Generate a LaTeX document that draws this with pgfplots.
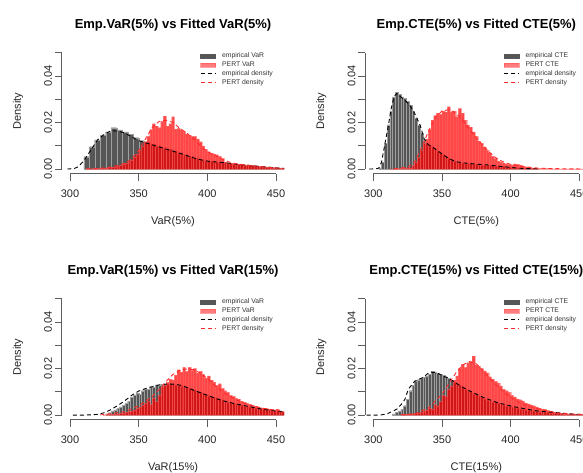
\documentclass[border=0pt]{standalone}
\usepackage{pgfplots}
\pgfplotsset{compat=1.18}
\usepackage{fontspec}
\setmainfont{Liberation Sans}
\definecolor{empgray}{HTML}{565656}
\definecolor{axgray}{HTML}{5E5E5E}
\definecolor{legred}{HTML}{FF4A4A}
\definecolor{dred}{HTML}{FF2A2A}

\pgfplotsset{
  rpanel/.style={
    scale only axis, width=222.4pt, height=125.6pt,
    xmin=294, xmax=456, ymin=-0.002, ymax=0.052,
    scaled y ticks=false, scaled x ticks=false,
    axis x line*=bottom, axis y line*=left,
    x axis line style={-, shorten <=8.24pt, shorten >=8.24pt},
    y axis line style={-, shorten <=4.65pt, shorten >=4.65pt},
    axis line style={axgray, line width=0.7pt},
    every tick/.style={axgray, line width=0.7pt},
    tick align=outside, major tick length=7pt,
    xtick={300,350,400,450}, xticklabels={300,350,400,450},
    ytick={0,0.01,0.02,0.03,0.04,0.05}, yticklabels={0.00,,0.02,,0.04,},
    tick label style={font=\fontsize{11}{13}\selectfont, text=black!85},
    yticklabel style={rotate=90, anchor=south, inner sep=2.5pt},
    xticklabel style={anchor=north, inner sep=0pt, yshift=-9pt},
    label style={font=\fontsize{11}{13}\selectfont, text=black!85},
    xlabel style={at={(axis description cs:0.5,-0.380)}, anchor=center},
    ylabel style={at={(axis description cs:-0.197,0.5)}, anchor=center},
    every axis title shift=0pt,
    title style={at={(axis description cs:0.5,1.18)}, anchor=center, font=\bfseries\fontsize{13}{15}\selectfont},
    legend style={draw=none, fill=none, at={(axis description cs:0.621,0.972)}, anchor=north west,
      font=\fontsize{6.8}{7.5}\selectfont, inner sep=0pt, row sep=0pt,
      nodes={inner sep=1.2pt, text=black!80}},
    legend cell align=left,
  },
  ghist/.style={ybar interval, fill=empgray, draw=gray!75, line width=0.25pt,
    legend image code/.code={\fill[empgray] (0pt,-2pt) rectangle (15pt,2pt); \path (0pt,0pt) (20pt,0pt);}},
  rhist/.style={ybar interval, fill=red, fill opacity=0.72, draw=red!60!white, draw opacity=0.5, line width=0.2pt,
    legend image code/.code={\fill[legred] (0pt,-2pt) rectangle (15pt,2pt); \path (0pt,0pt) (20pt,0pt);}},
  edens/.style={black, dash pattern=on 4pt off 3pt, line width=0.9pt,
    legend image code/.code={\draw[black, dash pattern=on 4pt off 3pt, line width=0.8pt] (0pt,0pt) -- (15pt,0pt); \path (0pt,0pt) (20pt,0pt);}},
  pdens/.style={dred, dash pattern=on 4pt off 3pt, line width=0.9pt,
    legend image code/.code={\draw[dred, dash pattern=on 4pt off 3pt, line width=0.8pt] (0pt,0pt) -- (15pt,0pt); \path (0pt,0pt) (20pt,0pt);}},
}

\begin{document}
\begin{tikzpicture}[x=1pt,y=1pt]
\useasboundingbox (0,0) rectangle (583,472);

% ---------------- Top-left: VaR(5%) ----------------
\begin{axis}[rpanel, at={(61.8pt,298.3pt)}, anchor=south west,
  title={Emp.VaR(5\%) vs Fitted VaR(5\%)}, xlabel={VaR(5\%)}, ylabel={Density}]
\addplot[ghist] coordinates {(310,0.0053) (314,0.0096) (318,0.0125) (322,0.0145) (326,0.0160) (330,0.0178) (334,0.0168) (338,0.0160) (342,0.0150) (346,0.0135) (350,0.0122) (354,0.0115) (358,0.0108) (362,0.0100) (366,0.0092) (370,0.0085) (374,0.0078) (378,0.0070) (382,0.0062) (386,0.0055) (390,0.0047) (394,0.0040) (398,0.0035) (402,0.0032) (406,0.0030) (410,0.0028) (414,0.0025) (418,0.0022) (422,0.0020) (426,0.0017) (430,0.0015) (434,0.0012) (438,0.0010) (442,0.0008) (446,0.0006) (450,0.0005) (454,0.0004) (458,0)};
\addlegendentry{empirical VaR}
\addplot[rhist] coordinates {(312,0.0002) (314,0.0001) (316,0.0002) (318,0.0002) (320,0.0002) (322,0.0003) (324,0.0004) (326,0.0005) (328,0.0007) (330,0.0008) (332,0.0010) (334,0.0013) (336,0.0016) (338,0.0020) (340,0.0026) (342,0.0032) (344,0.0040) (346,0.0052) (348,0.0065) (350,0.0080) (352,0.0100) (354,0.0118) (356,0.0140) (358,0.0170) (360,0.0195) (362,0.0185) (364,0.0178) (366,0.0205) (368,0.0228) (370,0.0185) (372,0.0195) (374,0.0225) (376,0.0172) (378,0.0175) (380,0.0168) (382,0.0162) (384,0.0150) (386,0.0145) (388,0.0140) (390,0.0140) (392,0.0130) (394,0.0118) (396,0.0100) (398,0.0085) (400,0.0075) (402,0.0068) (404,0.0065) (406,0.0062) (408,0.0055) (410,0.0045) (412,0.0030) (414,0.0026) (416,0.0025) (418,0.0023) (420,0.0022) (422,0.0021) (424,0.0020) (426,0.0019) (428,0.0018) (430,0.0017) (432,0.0015) (434,0.0014) (436,0.0012) (438,0.0011) (440,0.0010) (442,0.0009) (444,0.0008) (446,0.0007) (448,0.0006) (450,0.0005) (452,0.0004) (454,0.0003) (456,0)};
\addlegendentry{PERT VaR}
\addplot[edens] coordinates {(298,0) (303,0.0002) (306,0.0010) (310,0.0035) (315,0.0080) (320,0.0125) (325,0.0150) (330,0.0165) (335,0.0163) (340,0.0155) (345,0.0138) (350,0.0122) (355,0.0113) (360,0.0104) (365,0.0095) (370,0.0086) (375,0.0077) (380,0.0068) (385,0.0058) (390,0.0048) (395,0.0040) (400,0.0034) (405,0.0031) (410,0.0029) (415,0.0026) (420,0.0022) (425,0.0019) (430,0.0016) (435,0.0013) (440,0.0010) (445,0.0008) (450,0.0005) (456,0.0003)};
\addlegendentry{empirical density}
\addplot[pdens] coordinates {(312,0.0001) (320,0.0002) (330,0.0008) (340,0.0025) (345,0.0045) (350,0.0080) (355,0.0130) (360,0.0180) (365,0.0205) (370,0.0210) (375,0.0200) (380,0.0175) (385,0.0155) (390,0.0130) (395,0.0100) (400,0.0075) (405,0.0060) (410,0.0045) (415,0.0032) (420,0.0024) (430,0.0016) (440,0.0010) (450,0.0005) (456,0.0003)};
\addlegendentry{PERT density}
\end{axis}

% ---------------- Top-right: CTE(5%) ----------------
\begin{axis}[rpanel, at={(365.1pt,298.3pt)}, anchor=south west,
  title={Emp.CTE(5\%) vs Fitted CTE(5\%)}, xlabel={CTE(5\%)}, ylabel={Density}]
\addplot[ghist] coordinates {(304,0.0005) (306,0.0030) (308,0.0110) (310,0.0190) (312,0.0250) (314,0.0310) (316,0.0330) (318,0.0320) (320,0.0310) (322,0.0305) (324,0.0290) (326,0.0275) (328,0.0250) (330,0.0220) (332,0.0190) (334,0.0155) (336,0.0125) (338,0.0110) (340,0.0102) (342,0.0095) (344,0.0088) (346,0.0078) (348,0.0070) (350,0.0062) (352,0.0055) (354,0.0048) (356,0.0040) (358,0.0035) (360,0.0030) (362,0.0028) (364,0.0026) (366,0.0025) (368,0.0024) (370,0.0024) (372,0.0022) (374,0.0020) (376,0.0019) (378,0.0018) (380,0.0017) (384,0.0015) (388,0.0013) (392,0.0011) (396,0.0008) (400,0.0006) (404,0.0004) (408,0.0003) (412,0.0002) (416,0.0001) (420,0)};
\addlegendentry{empirical CTE}
\addplot[rhist] coordinates {(312,0.0001) (316,0.0002) (320,0.0003) (324,0.0006) (328,0.0015) (330,0.0030) (332,0.0050) (334,0.0080) (336,0.0110) (338,0.0130) (340,0.0170) (342,0.0210) (344,0.0230) (346,0.0240) (348,0.0235) (350,0.0250) (352,0.0245) (354,0.0268) (356,0.0245) (358,0.0250) (360,0.0225) (362,0.0260) (364,0.0240) (366,0.0210) (368,0.0190) (370,0.0180) (372,0.0160) (374,0.0140) (376,0.0120) (378,0.0110) (380,0.0095) (382,0.0080) (384,0.0070) (386,0.0055) (388,0.0045) (390,0.0035) (392,0.0030) (394,0.0025) (396,0.0022) (398,0.0020) (400,0.0018) (402,0.0022) (404,0.0020) (406,0.0018) (408,0.0014) (410,0.0010) (412,0.0008) (414,0.0006) (416,0.0004) (418,0.0003) (420,0.0002) (430,0.0001) (456,0)};
\addlegendentry{PERT CTE}
\addplot[edens] coordinates {(297,0) (302,0.0001) (304,0.0004) (306,0.0030) (308.5,0.0110) (311,0.0190) (313,0.0260) (315,0.0310) (317,0.0325) (320,0.0310) (324,0.0290) (327,0.0270) (330,0.0240) (334,0.0190) (337,0.0130) (340,0.0105) (343,0.0095) (347,0.0078) (350,0.0065) (355,0.0045) (360,0.0032) (365,0.0027) (370,0.0024) (375,0.0021) (385,0.0017) (395,0.0010) (405,0.0004) (412,0.0002) (420,0.0001)};
\addlegendentry{empirical density}
\addplot[pdens] coordinates {(315,0.0001) (325,0.0008) (330,0.0030) (335,0.0090) (340,0.0160) (345,0.0220) (350,0.0250) (355,0.0255) (360,0.0240) (365,0.0210) (370,0.0170) (375,0.0135) (380,0.0100) (385,0.0070) (390,0.0045) (395,0.0030) (400,0.0020) (405,0.0015) (410,0.0010) (420,0.0004) (430,0.0002) (440,0.0001) (456,0.0)};
\addlegendentry{PERT density}
\end{axis}

% ---------------- Bottom-left: VaR(15%) ----------------
\begin{axis}[rpanel, at={(61.8pt,52.3pt)}, anchor=south west,
  title={Emp.VaR(15\%) vs Fitted VaR(15\%)}, xlabel={VaR(15\%)}, ylabel={Density}]
\addplot[ghist] coordinates {(326,0.0005) (328,0.0010) (330,0.0018) (332,0.0022) (334,0.0028) (336,0.0035) (338,0.0042) (340,0.0050) (342,0.0060) (344,0.0075) (346,0.0085) (348,0.0095) (350,0.0088) (352,0.0105) (354,0.0110) (356,0.0112) (358,0.0122) (360,0.0118) (362,0.0130) (364,0.0128) (366,0.0133) (368,0.0131) (370,0.0134) (372,0.0132) (374,0.0131) (376,0.0130) (378,0.0128) (380,0.0126) (382,0.0122) (384,0.0120) (386,0.0116) (388,0.0112) (390,0.0107) (392,0.0102) (394,0.0098) (396,0.0093) (398,0.0088) (400,0.0083) (402,0.0079) (404,0.0075) (406,0.0071) (408,0.0067) (410,0.0063) (412,0.0059) (414,0.0056) (416,0.0053) (418,0.0050) (420,0.0047) (422,0.0045) (424,0.0042) (426,0.0040) (428,0.0038) (430,0.0035) (432,0.0033) (434,0.0030) (436,0.0028) (438,0.0026) (440,0.0024) (442,0.0022) (444,0.0020) (446,0.0019) (448,0.0017) (450,0.0016) (452,0.0014) (454,0.0013) (456,0)};
\addlegendentry{empirical VaR}
\addplot[rhist] coordinates {(324,0.0001) (326,0.0002) (328,0.0002) (330,0.0003) (332,0.0004) (334,0.0005) (336,0.0007) (338,0.0009) (340,0.0012) (342,0.0015) (344,0.0018) (346,0.0022) (348,0.0028) (350,0.0034) (352,0.0042) (354,0.0050) (356,0.0062) (358,0.0045) (360,0.0075) (362,0.0058) (364,0.0085) (366,0.0120) (368,0.0128) (370,0.0140) (372,0.0155) (374,0.0150) (376,0.0172) (378,0.0195) (380,0.0185) (382,0.0205) (384,0.0188) (386,0.0205) (388,0.0192) (390,0.0200) (392,0.0180) (394,0.0188) (396,0.0175) (398,0.0160) (400,0.0168) (402,0.0150) (404,0.0142) (406,0.0128) (408,0.0135) (410,0.0115) (412,0.0105) (414,0.0098) (416,0.0085) (418,0.0080) (420,0.0072) (422,0.0068) (424,0.0060) (426,0.0055) (428,0.0050) (430,0.0046) (432,0.0042) (434,0.0038) (436,0.0035) (438,0.0032) (440,0.0030) (442,0.0028) (444,0.0026) (446,0.0024) (448,0.0022) (450,0.0025) (452,0.0018) (454,0.0015) (456,0)};
\addlegendentry{PERT VaR}
\addplot[edens] coordinates {(302,0) (310,0) (316,0.0001) (320,0.0003) (325,0.0010) (330,0.0024) (335,0.0042) (340,0.0062) (345,0.0085) (350,0.0103) (355,0.0114) (360,0.0122) (365,0.0130) (370,0.0133) (375,0.0133) (380,0.0129) (385,0.0119) (390,0.0107) (395,0.0096) (400,0.0085) (405,0.0074) (410,0.0064) (415,0.0056) (420,0.0049) (425,0.0043) (430,0.0037) (435,0.0031) (440,0.0025) (445,0.0021) (450,0.0017) (456,0.0013)};
\addlegendentry{empirical density}
\addplot[pdens] coordinates {(322,0.0001) (325,0.0002) (340,0.0015) (350,0.0040) (360,0.0080) (365,0.0110) (370,0.0145) (375,0.0175) (380,0.0192) (385,0.0198) (390,0.0195) (395,0.0180) (400,0.0158) (405,0.0130) (410,0.0105) (415,0.0085) (420,0.0068) (425,0.0055) (430,0.0045) (435,0.0037) (440,0.0030) (445,0.0025) (450,0.0020) (456,0.0015)};
\addlegendentry{PERT density}
\end{axis}

% ---------------- Bottom-right: CTE(15%) ----------------
\begin{axis}[rpanel, at={(365.1pt,52.3pt)}, anchor=south west,
  title={Emp.CTE(15\%) vs Fitted CTE(15\%)}, xlabel={CTE(15\%)}, ylabel={Density}]
\addplot[ghist] coordinates {(314,0.0005) (316,0.0012) (318,0.0018) (320,0.0025) (322,0.0040) (324,0.0068) (326,0.0105) (328,0.0128) (330,0.0148) (332,0.0152) (334,0.0158) (336,0.0162) (338,0.0168) (340,0.0175) (342,0.0188) (344,0.0186) (346,0.0180) (348,0.0176) (350,0.0170) (352,0.0165) (354,0.0158) (356,0.0150) (358,0.0142) (360,0.0135) (362,0.0127) (364,0.0120) (366,0.0112) (368,0.0105) (370,0.0098) (372,0.0092) (374,0.0088) (376,0.0082) (378,0.0077) (380,0.0070) (382,0.0065) (384,0.0060) (386,0.0057) (388,0.0054) (390,0.0051) (392,0.0048) (394,0.0044) (396,0.0040) (398,0.0037) (400,0.0034) (402,0.0032) (404,0.0030) (406,0.0027) (408,0.0025) (410,0.0023) (412,0.0021) (414,0.0020) (416,0.0018) (418,0.0016) (420,0.0014) (424,0.0012) (428,0.0010) (432,0.0008) (436,0.0006) (440,0.0005) (444,0.0004) (448,0.0003) (452,0.0002) (456,0)};
\addlegendentry{empirical CTE}
\addplot[rhist] coordinates {(320,0.0002) (322,0.0003) (324,0.0004) (326,0.0005) (328,0.0006) (330,0.0008) (332,0.0010) (334,0.0013) (336,0.0017) (338,0.0022) (340,0.0030) (342,0.0025) (344,0.0045) (346,0.0040) (348,0.0058) (350,0.0085) (352,0.0080) (354,0.0110) (356,0.0125) (358,0.0150) (360,0.0168) (362,0.0200) (364,0.0218) (366,0.0205) (368,0.0225) (370,0.0230) (372,0.0253) (374,0.0215) (376,0.0210) (378,0.0200) (380,0.0190) (382,0.0182) (384,0.0165) (386,0.0155) (388,0.0145) (390,0.0138) (392,0.0125) (394,0.0110) (396,0.0105) (398,0.0097) (400,0.0085) (402,0.0078) (404,0.0070) (406,0.0066) (408,0.0060) (410,0.0052) (412,0.0048) (414,0.0044) (416,0.0040) (418,0.0035) (420,0.0030) (422,0.0027) (424,0.0024) (426,0.0020) (428,0.0016) (430,0.0013) (432,0.0011) (434,0.0009) (436,0.0007) (438,0.0006) (440,0.0005) (444,0.0004) (448,0.0003) (452,0.0002) (456,0)};
\addlegendentry{PERT CTE}
\addplot[edens] coordinates {(290,0) (305,0) (310,0.0005) (312,0.0011) (317,0.0025) (321,0.0050) (323,0.0068) (325.5,0.0111) (330,0.0145) (336,0.0161) (341,0.0185) (346,0.0182) (351,0.0168) (356,0.0154) (360,0.0138) (365,0.0120) (370,0.0104) (375,0.0090) (380,0.0076) (390,0.0054) (400,0.0039) (405,0.0033) (412,0.0025) (419,0.0018) (426,0.0014) (433,0.0011) (440,0.0007) (446,0.0004) (456,0.0002)};
\addlegendentry{empirical density}
\addplot[pdens] coordinates {(320,0.0001) (330,0.0005) (340,0.0030) (350,0.0090) (355,0.0135) (360,0.0180) (365,0.0215) (370,0.0230) (375,0.0220) (380,0.0190) (385,0.0155) (390,0.0125) (395,0.0098) (400,0.0075) (405,0.0058) (410,0.0045) (415,0.0035) (420,0.0027) (425,0.0020) (430,0.0014) (435,0.0009) (440,0.0006) (450,0.0003) (456,0.0002)};
\addlegendentry{PERT density}
\end{axis}
\end{tikzpicture}
\end{document}
